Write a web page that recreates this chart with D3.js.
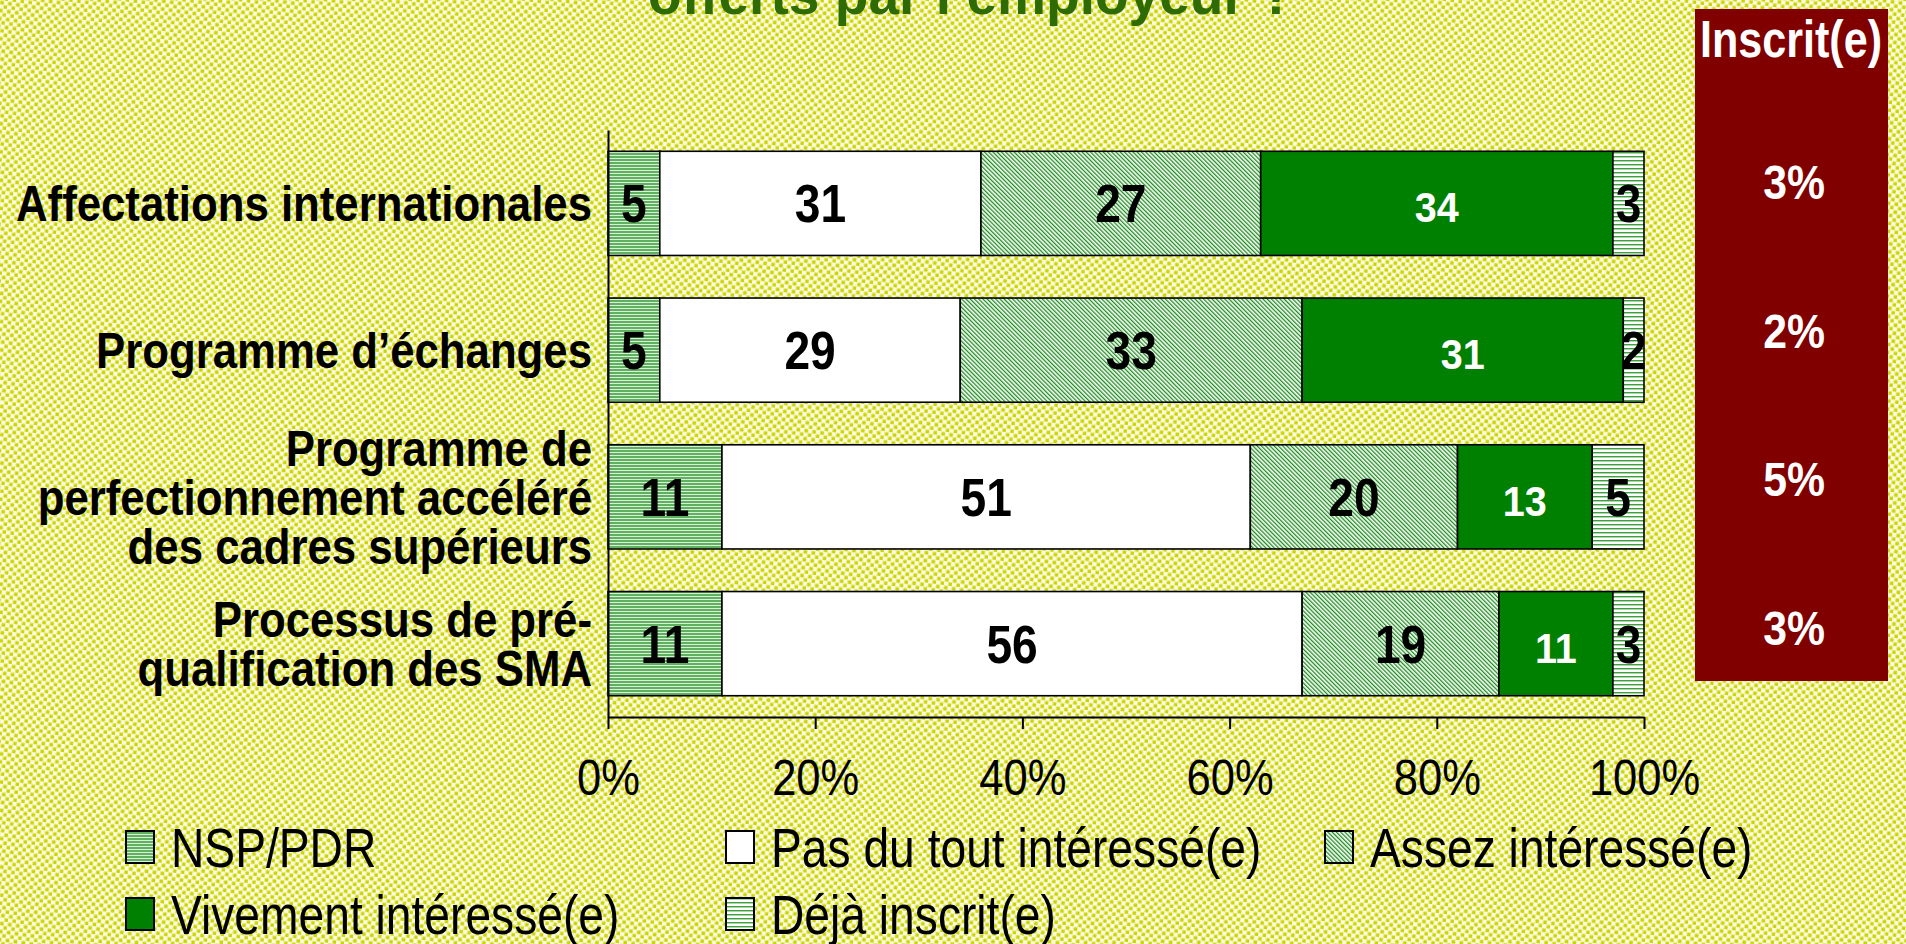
<!DOCTYPE html>
<html>
<head>
<meta charset="utf-8">
<script src="https://cdn.jsdelivr.net/npm/d3@7"></script>
<style>
  html, body { margin: 0; padding: 0; overflow: hidden; background: #fff; }
  svg { display: block; }
</style>
</head>
<body>
<div id="chart"></div>
<script>
// ---- data ----
const categories = [
  "Affectations internationales",
  "Programme d’échanges",
  "Programme de\nperfectionnement accéléré\ndes cadres supérieurs",
  "Processus de pré-\nqualification des SMA"
];
const seriesNames = ["NSP/PDR", "Pas du tout intéressé(e)", "Assez intéressé(e)", "Vivement intéressé(e)", "Déjà inscrit(e)"];
const nsp       = [5, 5, 11, 11];
const pasDuTout = [31, 29, 51, 56];
const assez     = [27, 33, 20, 19];
const vivement  = [34, 31, 13, 11];
const deja      = [3, 2, 5, 3];
const inscrit   = [3, 2, 5, 3];
const xTicks    = [0, 20, 40, 60, 80, 100];
const titleText = "offerts par l’employeur ?";
const boxTitle  = "Inscrit(e)";

const W = 1906, H = 944;
const FONT = "'Liberation Sans', Arial, Helvetica, sans-serif";

const svg = d3.select("#chart").append("svg")
    .attr("width", W)
    .attr("height", H);

// ---- patterns ----
const defs = svg.append("defs");

const bg = defs.append("pattern").attr("id", "bg")
    .attr("patternUnits", "userSpaceOnUse").attr("width", 8).attr("height", 8)
    .attr("patternTransform", "rotate(8)");
bg.append("rect").attr("width", 8).attr("height", 8).attr("fill", "#fbfbe4");
bg.append("rect").attr("x", 0.5).attr("y", 0.5).attr("width", 3.7).attr("height", 3.7).attr("fill", "#cdd500");
bg.append("rect").attr("x", 4.5).attr("y", 4.5).attr("width", 3.7).attr("height", 3.7).attr("fill", "#cdd500");

const pNsp = defs.append("pattern").attr("id", "pNsp")
    .attr("patternUnits", "userSpaceOnUse").attr("width", 4).attr("height", 3);
pNsp.append("rect").attr("width", 4).attr("height", 3).attr("fill", "#5fb05f");
pNsp.append("rect").attr("y", 2).attr("width", 4).attr("height", 1).attr("fill", "#d8efd8");

const pDeja = defs.append("pattern").attr("id", "pDeja")
    .attr("patternUnits", "userSpaceOnUse").attr("width", 4).attr("height", 4);
pDeja.append("rect").attr("width", 4).attr("height", 4).attr("fill", "#ffffff");
pDeja.append("rect").attr("y", 0).attr("width", 4).attr("height", 1).attr("fill", "#3f9e3f");
pDeja.append("rect").attr("y", 1).attr("width", 4).attr("height", 1).attr("fill", "#a8d8a8");

const pAssez = defs.append("pattern").attr("id", "pAssez")
    .attr("patternUnits", "userSpaceOnUse").attr("width", 3).attr("height", 3)
    .attr("patternTransform", "rotate(-45)");
pAssez.append("rect").attr("width", 3).attr("height", 3).attr("fill", "#ffffff");
pAssez.append("rect").attr("width", 1.3).attr("height", 3).attr("fill", "#1e8c1e");

const fills = ["url(#pNsp)", "#ffffff", "url(#pAssez)", "#008000", "url(#pDeja)"];

svg.append("rect").attr("width", W).attr("height", H).attr("fill", "url(#bg)");

// helper: text positioned with horizontal condensation
function tf(x, y, s) { return `translate(${x},${y}) scale(${s},1)`; }

// ---- title (only its last line shows at the top edge) ----
svg.append("text")
    .attr("transform", tf(971, 14, 0.95))
    .attr("text-anchor", "middle")
    .attr("font-family", FONT).attr("font-weight", "bold").attr("font-size", 58)
    .attr("fill", "#2e6b05")
    .text(titleText);

// ---- scales ----
const x = d3.scaleLinear().domain([0, 100]).range([608, 1644]);
const y = d3.scaleBand().domain(categories).range([130, 717])
    .paddingInner(0.29).paddingOuter(0.145);

const keys = ["nsp", "pas", "assez", "viv", "deja"];
const rows = categories.map((c, i) => ({
  cat: c, nsp: nsp[i], pas: pasDuTout[i], assez: assez[i], viv: vivement[i], deja: deja[i]
}));
const stacked = d3.stack().keys(keys)(rows);

// ---- bars ----
const layers = svg.append("g").selectAll("g")
  .data(stacked)
  .join("g")
    .attr("fill", (d, i) => fills[i]);

layers.selectAll("rect")
  .data(d => d)
  .join("rect")
    .attr("x", d => x(d[0]))
    .attr("y", d => y(d.data.cat))
    .attr("width", d => x(d[1]) - x(d[0]))
    .attr("height", y.bandwidth())
    .attr("stroke", "#000")
    .attr("stroke-width", 1.6);

// value labels
stacked.forEach((layer, li) => {
  const white = li === 3;
  svg.append("g").selectAll("text")
    .data(layer)
    .join("text")
      .attr("transform", d => tf(x((d[0] + d[1]) / 2), y(d.data.cat) + y.bandwidth() / 2 + (white ? 19 : 19), white ? 0.92 : 0.87))
      .attr("text-anchor", "middle")
      .attr("font-family", FONT).attr("font-weight", "bold")
      .attr("font-size", white ? 43 : 53)
      .attr("fill", white ? "#fff" : "#000")
      .text(d => d[1] - d[0]);
});

// ---- axes ----
const xAxis = svg.append("g")
    .attr("transform", "translate(0,717)")
    .call(d3.axisBottom(x).tickValues(xTicks).tickFormat(d => d + "%").tickSize(12).tickSizeOuter(0));
xAxis.select(".domain").attr("stroke", "#000").attr("stroke-width", 2);
xAxis.selectAll(".tick line").attr("stroke", "#000").attr("stroke-width", 2);
xAxis.selectAll(".tick text")
    .attr("y", null).attr("dy", null)
    .attr("transform", "translate(0,78) scale(0.87,1)")
    .attr("font-family", FONT).attr("font-size", 50).attr("fill", "#000");

const yAxis = svg.append("g")
    .attr("transform", "translate(608,0)")
    .call(d3.axisLeft(y).tickSize(0).tickSizeOuter(0).tickFormat(""));
yAxis.select(".domain").attr("stroke", "#000").attr("stroke-width", 2);

// category labels
const lineH = 49;
categories.forEach(c => {
  const lines = c.split("\n");
  const cy = y(c) + y.bandwidth() / 2;
  lines.forEach((ln, i) => {
    svg.append("text")
      .attr("transform", tf(592, cy + (i - (lines.length - 1) / 2) * lineH + 18, 0.875))
      .attr("text-anchor", "end")
      .attr("font-family", FONT).attr("font-weight", "bold").attr("font-size", 50)
      .attr("fill", "#000")
      .text(ln);
  });
});

// ---- "Inscrit(e)" box ----
svg.append("rect")
    .attr("x", 1695).attr("y", 9).attr("width", 193).attr("height", 672)
    .attr("fill", "#800000");
svg.append("text")
    .attr("transform", tf(1791, 57, 0.83))
    .attr("text-anchor", "middle")
    .attr("font-family", FONT).attr("font-weight", "bold").attr("font-size", 52)
    .attr("fill", "#fff")
    .text(boxTitle);
const boxY = d3.scalePoint().domain(categories).range([182, 628]);
svg.append("g").selectAll("text")
  .data(categories)
  .join("text")
    .attr("transform", (c, i) => tf(1794, boxY(c) + 17, 0.89))
    .attr("text-anchor", "middle")
    .attr("font-family", FONT).attr("font-weight", "bold").attr("font-size", 48)
    .attr("fill", "#fff")
    .text((c, i) => inscrit[i] + "%");

// ---- legend ----
const legendPos = [[126, 847], [726, 847], [1325, 847], [126, 914], [726, 914]];
const legend = svg.append("g").selectAll("g")
  .data(seriesNames)
  .join("g")
    .attr("transform", (d, i) => `translate(${legendPos[i][0]},${legendPos[i][1]})`);
legend.append("rect")
    .attr("x", 0).attr("y", -16).attr("width", 28).attr("height", 32)
    .attr("fill", (d, i) => fills[i])
    .attr("stroke", "#000").attr("stroke-width", 2);
legend.append("text")
    .attr("transform", tf(45, 20, 0.84))
    .attr("font-family", FONT).attr("font-size", 55)
    .attr("fill", "#000")
    .text(d => d);
</script>
</body>
</html>
